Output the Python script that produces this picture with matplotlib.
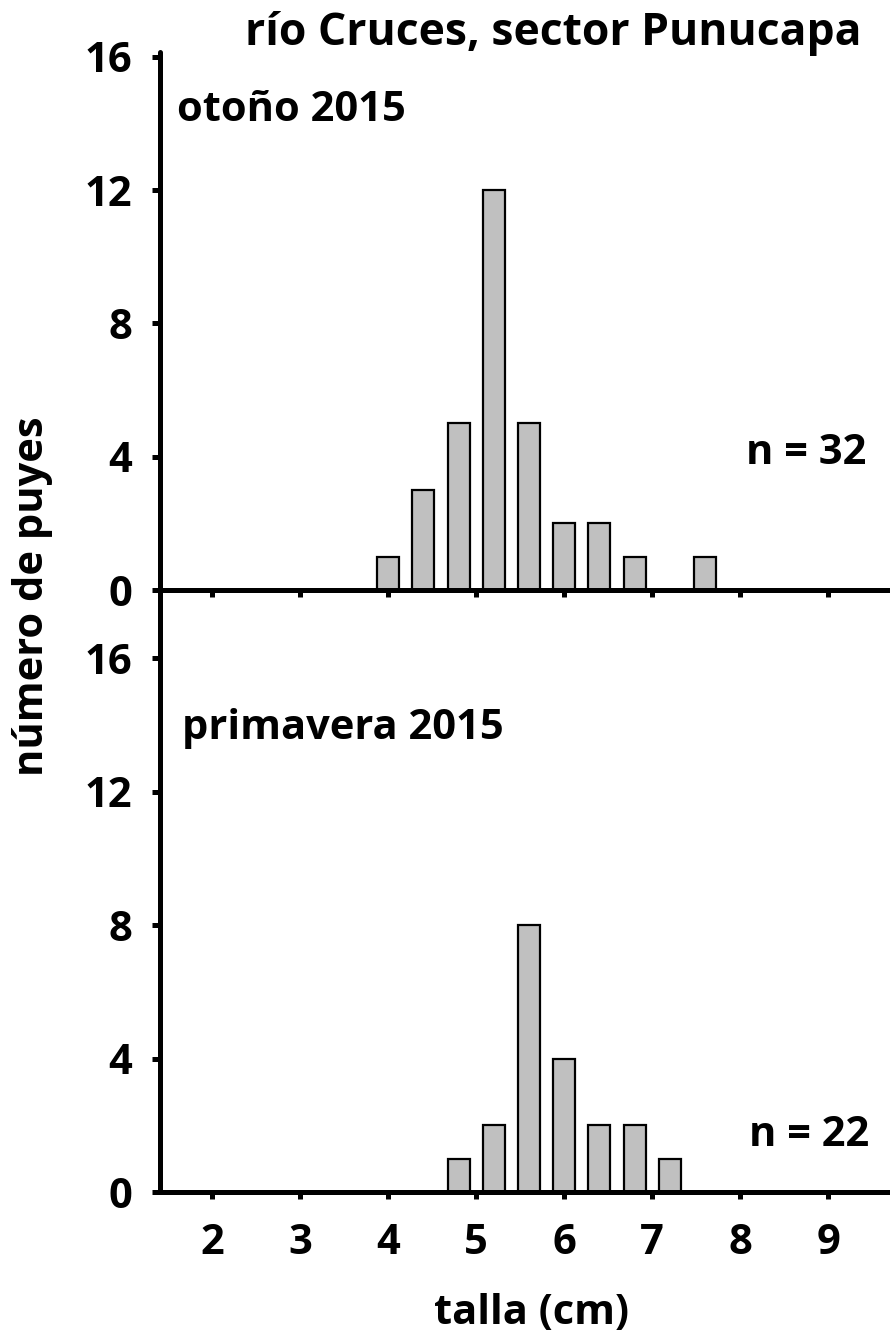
import matplotlib
matplotlib.use("Agg")
import matplotlib.pyplot as plt

plt.rcParams['font.family'] = ['Open Sans', 'DejaVu Sans']
plt.rcParams['font.weight'] = 'bold'

# data
bin_centers = [4.0, 4.4, 4.8, 5.2, 5.6, 6.0, 6.4, 6.8, 7.2, 7.6]
otono_counts = [1, 3, 5, 12, 5, 2, 2, 1, 0, 1]
primavera_counts = [0, 0, 1, 2, 8, 4, 2, 2, 1, 0]
x_ticks = [2, 3, 4, 5, 6, 7, 8, 9]
y_ticks = [0, 4, 8, 12, 16]
title = "río Cruces, sector Punucapa"
panel_labels = ["otoño 2015", "primavera 2015"]
n_labels = ["n = 32", "n = 22"]
x_label = "talla (cm)"
y_label = "número de puyes"

W, H = 890, 1342
fig = plt.figure(figsize=(W / 100, H / 100), dpi=100)

def px_axes(left, top, right, bottom):
    return fig.add_axes([left / W, 1 - bottom / H, (right - left) / W, (bottom - top) / H])

ax1 = px_axes(160, 52, 890, 590)
ax2 = px_axes(160, 590, 890, 1192)

FS = 30
for ax, counts, ymax in [(ax1, otono_counts, 16.15), (ax2, primavera_counts, 18.05)]:
    xs = [c for c, v in zip(bin_centers, counts) if v > 0]
    vs = [v for v in counts if v > 0]
    ax.bar(xs, vs, width=0.25, color='#c0c0c0', edgecolor='black', linewidth=1.6, zorder=2)
    ax.set_xlim(1.41, 9.70)
    ax.set_ylim(0, ymax)
    ax.set_xticks(x_ticks)
    ax.set_yticks(y_ticks)
    for s in ['top', 'right']:
        ax.spines[s].set_visible(False)
    for s in ['left', 'bottom']:
        ax.spines[s].set_linewidth(3.6)
        ax.spines[s].set_zorder(3)
        ax.spines[s].set_capstyle('round')
    ax.tick_params(axis='y', direction='out', length=6, width=3.6, labelsize=FS, pad=14)
    ax.tick_params(axis='x', direction='out', length=5, width=3.6, labelsize=FS, pad=17)
    for t in ax.get_yticklabels() + ax.get_xticklabels():
        t.set_fontweight('bold')
    ax.patch.set_alpha(0)

ax1.tick_params(axis='x', labelbottom=False)

ax1.text(1.60, 14.4, panel_labels[0], fontsize=FS, fontweight='bold', ha='left', va='center')
ax1.text(9.43, 4.1, n_labels[0], fontsize=FS, fontweight='bold', ha='right', va='center')
ax2.text(1.66, 13.9, panel_labels[1], fontsize=FS, fontweight='bold', ha='left', va='center')
ax2.text(9.46, 1.7, n_labels[1], fontsize=FS, fontweight='bold', ha='right', va='center')

fig.text(531 / W, 1 - 1314 / H, x_label, fontsize=FS, fontweight='bold', ha='center', va='center')
fig.text(553 / W, 1 - 33 / H, title, fontsize=32, fontweight='bold', ha='center', va='center')
fig.text(33 / W, 1 - 596 / H, y_label, fontsize=FS, fontweight='bold',
         ha='center', va='center', rotation=90)

fig.savefig("out.png", dpi=100)
